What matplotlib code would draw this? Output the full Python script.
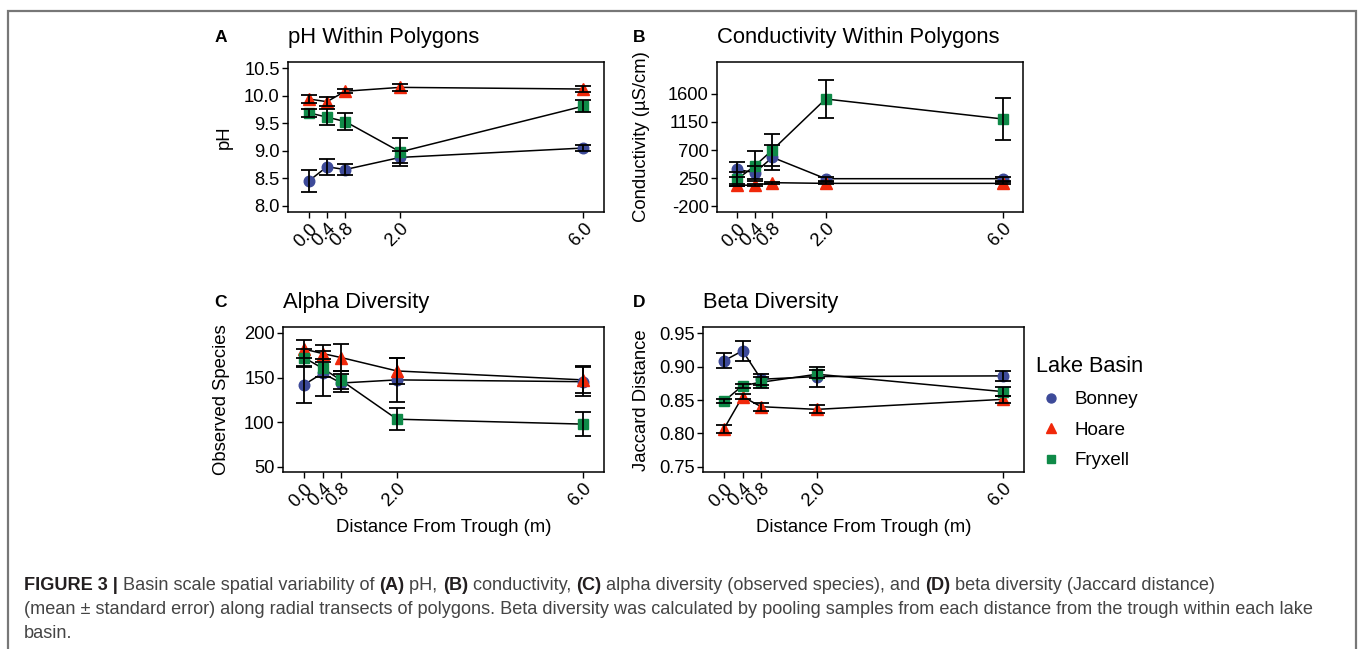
import matplotlib
matplotlib.use("Agg")
import matplotlib.pyplot as plt
from matplotlib.lines import Line2D
from matplotlib.patches import Rectangle

plt.rcParams["font.family"] = ["Liberation Sans", "DejaVu Sans"]
plt.rcParams["axes.unicode_minus"] = False

# distance from trough (m) and its tick labels
DIST = [0.0, 0.4, 0.8, 2.0, 6.0]
DIST_LABELS = ["0.0", "0.4", "0.8", "2.0", "6.0"]
BASINS = ["Bonney", "Hoare", "Fryxell"]

# (A) pH, mean and standard error
PH_BONNEY = [8.45, 8.71, 8.66, 8.88, 9.05]
PH_BONNEY_SE = [0.20, 0.15, 0.10, 0.11, 0.06]
PH_HOARE = [9.94, 9.89, 10.08, 10.15, 10.12]
PH_HOARE_SE = [0.07, 0.085, 0.04, 0.06, 0.05]
PH_FRYXELL = [9.69, 9.61, 9.53, 8.98, 9.81]
PH_FRYXELL_SE = [0.075, 0.14, 0.16, 0.25, 0.11]

# (B) conductivity (uS/cm)
COND_BONNEY = [389, 336, 582, 239, 239]
COND_BONNEY_SE = [120, 100, 200, 30, 30]
COND_HOARE = [137, 132, 175, 164, 164]
COND_HOARE_SE = [20, 15, 15, 15, 15]
COND_FRYXELL = [229, 443, 700, 1520, 1198]
COND_FRYXELL_SE = [110, 240, 255, 300, 337]

# (C) alpha diversity, observed species
ALPHA_BONNEY = [142, 155, 144, 147.5, 145.5]
ALPHA_BONNEY_SE = [20, 25, 10, 25, 16]
ALPHA_HOARE = [182, 177, 172.5, 157.5, 147.5]
ALPHA_HOARE_SE = [10, 10, 15, 15, 15]
ALPHA_FRYXELL = [172.5, 160.5, 147, 103.5, 98]
ALPHA_FRYXELL_SE = [10, 10, 10, 12.5, 13]

# (D) beta diversity, Jaccard distance
BETA_BONNEY = [0.9085, 0.9235, 0.881, 0.885, 0.886]
BETA_BONNEY_SE = [0.011, 0.015, 0.008, 0.015, 0.008]
BETA_HOARE = [0.807, 0.855, 0.840, 0.836, 0.851]
BETA_HOARE_SE = [0.006, 0.004, 0.006, 0.006, 0.005]
BETA_FRYXELL = [0.848, 0.8715, 0.8765, 0.8885, 0.8625]
BETA_FRYXELL_SE = [0.003, 0.003, 0.008, 0.006, 0.007]

STYLE = {
    "Bonney":  dict(color="#3D4A99", marker="o", ms=7.6),
    "Hoare":   dict(color="#F0280A", marker="^", ms=8.8),
    "Fryxell": dict(color="#0F8A48", marker="s", ms=7.0),
}

W, H = 1360, 649


def px_rect(left, top, right, bottom):
    return [left / W, 1 - bottom / H, (right - left) / W, (bottom - top) / H]


def draw_panel(ax, series, ylim, yticks, yticklabels=None):
    for basin, (mean, se) in zip(BASINS, series):
        st = STYLE[basin]
        ax.plot(DIST, mean, color="black", lw=1.1, zorder=2)
        ax.plot(DIST, mean, ls="none", marker=st["marker"], ms=st["ms"],
                color=st["color"], mec=st["color"], zorder=3)
        ax.errorbar(DIST, mean, yerr=se, fmt="none", ecolor="black",
                    elinewidth=1.3, capsize=5.5, capthick=1.3, zorder=4)
    ax.set_xlim(-0.45, 6.45)
    ax.set_ylim(*ylim)
    ax.set_yticks(yticks)
    if yticklabels is not None:
        ax.set_yticklabels(yticklabels)
    ax.set_xticks(DIST)
    ax.set_xticklabels(DIST_LABELS, rotation=45, ha="right",
                       rotation_mode="anchor")
    ax.tick_params(direction="out", length=4, width=1, color="black",
                   labelsize=13.2, labelcolor="black", pad=2)
    for sp in ax.spines.values():
        sp.set_linewidth(1.1)
        sp.set_color("black")


def draw_caption(fig, x, y, pieces, size=13.1):
    # pieces of (text, bold); drawn one after another on a line
    renderer = fig.canvas.get_renderer()
    for txt, bold in pieces:
        t = fig.text(x, y, txt, fontsize=size, va="center", ha="left",
                     fontweight="bold" if bold else "normal",
                     color="#231f20" if bold else "#444444")
        bb = t.get_window_extent(renderer=renderer)
        x += bb.width / W


def main():
    fig = plt.figure(figsize=(W / 100, H / 100), dpi=100)
    fig.patch.set_facecolor("white")

    # outer grey frame of the figure page
    fig.patches.append(Rectangle((8 / W, -0.05), (1356 - 8) / W, 1.05 - 11 / H,
                                 transform=fig.transFigure, fill=False,
                                 edgecolor="#777777", lw=1.6))

    axA = fig.add_axes(px_rect(288, 62, 604, 212))
    axB = fig.add_axes(px_rect(717, 62, 1023, 212))
    axC = fig.add_axes(px_rect(283, 327, 604, 472))
    axD = fig.add_axes(px_rect(703, 327, 1024, 472))

    draw_panel(axA, [(PH_BONNEY, PH_BONNEY_SE), (PH_HOARE, PH_HOARE_SE),
                     (PH_FRYXELL, PH_FRYXELL_SE)],
               (7.89, 10.61), [8.0, 8.5, 9.0, 9.5, 10.0, 10.5],
               ["8.0", "8.5", "9.0", "9.5", "10.0", "10.5"])
    draw_panel(axB, [(COND_BONNEY, COND_BONNEY_SE), (COND_HOARE, COND_HOARE_SE),
                     (COND_FRYXELL, COND_FRYXELL_SE)],
               (-296, 2114), [-200, 250, 700, 1150, 1600],
               ["-200", "250", "700", "1150", "1600"])
    draw_panel(axC, [(ALPHA_BONNEY, ALPHA_BONNEY_SE), (ALPHA_HOARE, ALPHA_HOARE_SE),
                     (ALPHA_FRYXELL, ALPHA_FRYXELL_SE)],
               (44.4, 206.7), [50, 100, 150, 200])
    draw_panel(axD, [(BETA_BONNEY, BETA_BONNEY_SE), (BETA_HOARE, BETA_HOARE_SE),
                     (BETA_FRYXELL, BETA_FRYXELL_SE)],
               (0.7425, 0.959), [0.75, 0.80, 0.85, 0.90, 0.95],
               ["0.75", "0.80", "0.85", "0.90", "0.95"])

    # panel letters and titles
    for letter, lx, tx, ty, title in [
            ("A", 215, 288, 37, "pH Within Polygons"),
            ("B", 633, 717, 37, "Conductivity Within Polygons"),
            ("C", 214, 283, 302, "Alpha Diversity"),
            ("D", 633, 703, 302, "Beta Diversity")]:
        fig.text(lx / W, 1 - ty / H, letter, fontsize=12.5, fontweight="bold",
                 va="center", ha="left")
        fig.text(tx / W, 1 - ty / H, title, fontsize=15.8, va="center", ha="left")

    # axis labels
    for lx, ly, lab in [(224, 137, "pH"),
                        (642, 137, "Conductivity (\u00b5S/cm)"),
                        (222, 400, "Observed Species"),
                        (642, 400, "Jaccard Distance")]:
        fig.text(lx / W, 1 - ly / H, lab, fontsize=13.3, rotation=90,
                 va="center", ha="center")
    for cx in (444, 864):
        fig.text(cx / W, 1 - 527 / H, "Distance From Trough (m)", fontsize=13.3,
                 va="center", ha="center")

    # legend
    handles = [Line2D([], [], ls="none", marker=STYLE[b]["marker"],
                      ms=STYLE[b]["ms"] * 0.85, color=STYLE[b]["color"])
               for b in BASINS]
    leg = fig.legend(handles, BASINS, loc="upper left",
                     bbox_to_anchor=(1029 / W, 1 - 349 / H), frameon=False,
                     title="Lake Basin", title_fontsize=15.7, fontsize=13.5,
                     labelspacing=0.72, handletextpad=0.55, handlelength=1.5,
                     borderaxespad=0)
    leg._legend_box.align = "left"

    # caption
    draw_caption(fig, 24 / W, 1 - 585 / H, [
        ("FIGURE 3 | ", True), ("Basin scale spatial variability of ", False),
        ("(A)", True), (" pH, ", False), ("(B)", True), (" conductivity, ", False),
        ("(C)", True), (" alpha diversity (observed species), and ", False),
        ("(D)", True), (" beta diversity (Jaccard distance)", False)])
    draw_caption(fig, 24 / W, 1 - 610 / H, [
        ("(mean \u00b1 standard error) along radial transects of polygons. "
         "Beta diversity was calculated by pooling samples from each distance "
         "from the trough within each lake", False)])
    draw_caption(fig, 24 / W, 1 - 634 / H, [("basin.", False)])

    fig.savefig("out.png", dpi=100)


if __name__ == "__main__":
    main()
